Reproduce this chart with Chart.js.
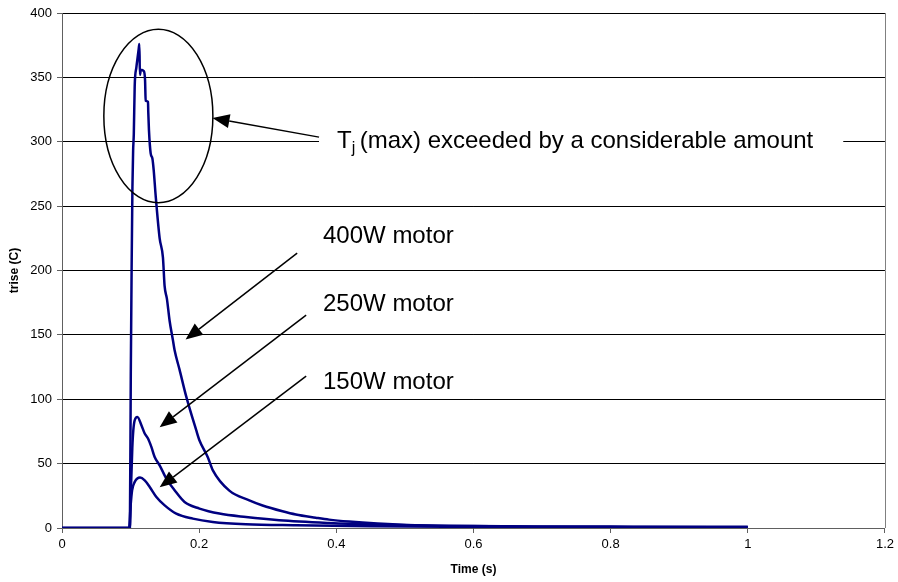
<!DOCTYPE html>
<html>
<head>
<meta charset="utf-8">
<script src="https://cdn.jsdelivr.net/npm/chart.js@4/dist/chart.umd.min.js"></script>
<style>
  html, body { margin: 0; padding: 0; background: #fff; }
</style>
</head>
<body>
<canvas id="chart" width="898" height="582"></canvas>
<script>
// Temperature rise after switch-on, three motor sizes
const t400 = [0, 0.099, 0.1003, 0.1015, 0.1027, 0.1037, 0.1047, 0.106, 0.1085, 0.1104, 0.1118, 0.1128, 0.1136, 0.115, 0.1191, 0.1211, 0.122, 0.1254, 0.1258, 0.1268, 0.1293, 0.1318, 0.1337, 0.1366, 0.1424, 0.1472, 0.1496, 0.153, 0.1569, 0.1617, 0.1642, 0.1714, 0.1812, 0.1957, 0.2005, 0.2126, 0.2198, 0.244, 0.2731, 0.2925, 0.3215, 0.3409, 0.37, 0.3894, 0.4184, 0.46, 0.5153, 0.6, 0.7, 0.8, 0.9, 1.0];
const v400 = [0, 0, 120, 200, 265, 293, 306, 343, 358, 366, 372, 376, 352, 356, 355, 348, 332, 331, 323, 309, 291, 287, 278, 258, 225, 210, 188, 178, 161, 146, 138, 123, 102, 76, 68, 55, 45, 29, 21.5, 17.5, 13, 10.5, 8, 6.5, 5, 3.5, 2.2, 1.5, 1.2, 1.1, 1, 1];

const t250 = [0, 0.099, 0.1005, 0.1025, 0.104, 0.106, 0.11, 0.1158, 0.1206, 0.1254, 0.1303, 0.1351, 0.1424, 0.1521, 0.1642, 0.1787, 0.2005, 0.2295, 0.2683, 0.3167, 0.3894, 0.45, 0.55, 0.7, 0.85, 1.0];
const v250 = [0, 0, 30, 62, 76, 83.7, 86.3, 79.8, 73.4, 69.5, 63, 55.2, 48.7, 38.4, 29.3, 20.2, 15.1, 11.2, 8.5, 6, 3.9, 2.8, 1.8, 1.0, 0.7, 0.5];

const t150 = [0, 0.0978, 0.1, 0.1022, 0.1061, 0.1138, 0.1206, 0.1279, 0.1376, 0.1497, 0.1666, 0.1908, 0.2198, 0.2683, 0.341, 0.45, 0.6, 0.8, 1.0];
const v150 = [0, 0, 17, 29.3, 35.8, 39.2, 37, 31.9, 24.1, 17.6, 11.2, 7.3, 4.7, 2.9, 2.1, 1.4, 0.8, 0.5, 0.4];

// callouts, in data units
const motorLabels = ["400W motor", "250W motor", "150W motor"];
const motorLabelPos = [[0.3806, 221.2], [0.3806, 168.4], [0.3806, 107.8]];
const motorArrows = [
  [0.3429, 213.5, 0.1802, 146.4],
  [0.356, 165.3, 0.1424, 78.3],
  [0.356, 117.9, 0.1424, 31.6],
];
const tjArrow = [0.3748, 303.6, 0.2194, 318.4];
const tjLabelPos = [0.401, 295];
const peakEllipse = [0.1405, 320, 0.0795, 67.4];

const FONT = '"Liberation Sans", Arial, sans-serif';
const LINE = "#000080";

function toPoints(ts, vs) {
  return ts.map((t, i) => ({ x: t, y: vs[i] }));
}

function arrow(ctx, x0, y0, x1, y1) {
  const a = Math.atan2(y1 - y0, x1 - x0);
  const len = 17, hw = 7;
  const bx = x1 - len * Math.cos(a), by = y1 - len * Math.sin(a);
  ctx.beginPath();
  ctx.moveTo(x0, y0);
  ctx.lineTo(bx, by);
  ctx.stroke();
  ctx.beginPath();
  ctx.moveTo(x1, y1);
  ctx.lineTo(bx + hw * Math.sin(a), by - hw * Math.cos(a));
  ctx.lineTo(bx - hw * Math.sin(a), by + hw * Math.cos(a));
  ctx.closePath();
  ctx.fill();
}

const frame = {
  id: "frame",
  beforeDatasetsDraw(chart) {
    const { ctx, chartArea } = chart;
    ctx.save();
    ctx.strokeStyle = "#808080";
    ctx.lineWidth = 1;
    ctx.beginPath();
    ctx.moveTo(Math.round(chartArea.right) + 0.5, chartArea.top);
    ctx.lineTo(Math.round(chartArea.right) + 0.5, chartArea.bottom);
    ctx.stroke();
    ctx.restore();
  },
};

const notes = {
  id: "notes",
  afterDraw(chart) {
    const { ctx } = chart;
    const x = chart.scales.x, y = chart.scales.y;
    const px = (v) => x.getPixelForValue(v);
    const py = (v) => y.getPixelForValue(v);
    ctx.save();
    ctx.strokeStyle = "#000";
    ctx.fillStyle = "#000";
    ctx.lineWidth = 1.5;

    // ellipse round the peak
    const [ec, ev, er, eh] = peakEllipse;
    ctx.beginPath();
    ctx.ellipse(px(ec), py(ev), px(ec + er) - px(ec), py(ev) - py(ev + eh), 0, 0, Math.PI * 2);
    ctx.stroke();

    // Tj label with white box over the gridline
    const lx = px(tjLabelPos[0]), ly = py(tjLabelPos[1]);
    ctx.font = "24px " + FONT;
    const wT = ctx.measureText("T").width;
    const rest = "(max) exceeded by a considerable amount";
    ctx.font = "16px " + FONT;
    const wj = ctx.measureText("j ").width;
    ctx.font = "24px " + FONT;
    const wRest = ctx.measureText(rest).width;
    ctx.fillStyle = "#fff";
    ctx.fillRect(lx - 18, ly - 22, wT + wj + wRest + 48, 30);
    ctx.fillStyle = "#000";
    ctx.textBaseline = "alphabetic";
    ctx.fillText("T", lx, ly);
    ctx.fillText(rest, lx + wT + wj, ly);
    ctx.font = "16px " + FONT;
    ctx.fillText("j", lx + wT, ly + 5);

    arrow(ctx, px(tjArrow[0]), py(tjArrow[1]), px(tjArrow[2]), py(tjArrow[3]));

    // motor callouts
    ctx.font = "24px " + FONT;
    motorLabels.forEach((txt, i) => {
      ctx.fillText(txt, px(motorLabelPos[i][0]), py(motorLabelPos[i][1]));
      const a = motorArrows[i];
      arrow(ctx, px(a[0]), py(a[1]), px(a[2]), py(a[3]));
    });
    ctx.restore();
  },
};

Chart.defaults.font.family = FONT;
Chart.defaults.color = "#000";

const lineStyle = {
  borderColor: LINE,
  borderWidth: 2.5,
  pointRadius: 0,
  fill: false,
  cubicInterpolationMode: "monotone",
};

const config = {
  type: "line",
  data: {
    datasets: [
      { label: "400W motor", data: toPoints(t400, v400), ...lineStyle },
      { label: "250W motor", data: toPoints(t250, v250), ...lineStyle },
      { label: "150W motor", data: toPoints(t150, v150), ...lineStyle },
    ],
  },
  options: {
    responsive: false,
    animation: false,
    layout: { padding: { top: 13, right: 10, left: 0, bottom: 0 } },
    plugins: {
      legend: { display: false },
      tooltip: { enabled: false },
    },
    scales: {
      x: {
        type: "linear",
        min: 0,
        max: 1.2,
        ticks: {
          stepSize: 0.2,
          font: { size: 13 },
          padding: 4,
          maxRotation: 0,
          callback: (v) => String(Number(v.toFixed(1))),
        },
        grid: { drawOnChartArea: false, tickLength: 5, color: "#606060" },
        border: { color: "#606060" },
        title: {
          display: true,
          text: "Time (s)",
          font: { size: 12, weight: "bold" },
          padding: { top: 4, bottom: 5 },
        },
        afterFit(scale) {
          scale.height = 54;
        },
      },
      y: {
        min: 0,
        max: 400,
        ticks: { stepSize: 50, font: { size: 13 }, padding: 5 },
        grid: { color: "#000", tickLength: 5, tickColor: "#606060" },
        border: { color: "#606060" },
        title: {
          display: true,
          text: "trise (C)",
          font: { size: 12, weight: "bold" },
          padding: { top: 7, bottom: 0 },
        },
        afterFit(scale) {
          scale.width = 62;
        },
      },
    },
  },
  plugins: [frame, notes],
};

const chart = new Chart(document.getElementById("chart"), config);
</script>
</body>
</html>
